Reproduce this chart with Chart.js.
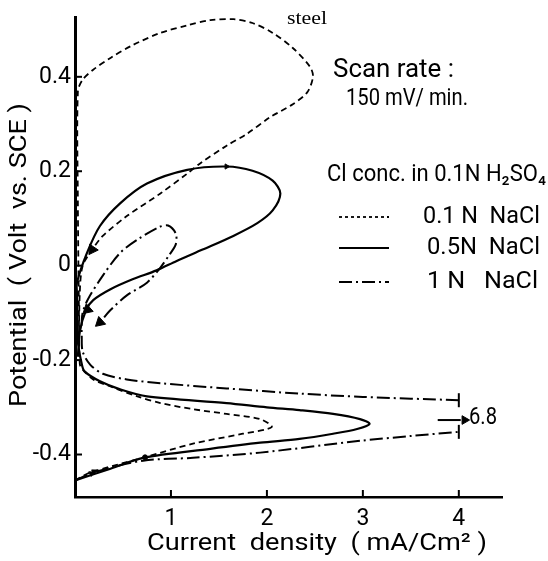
<!DOCTYPE html>
<html>
<head>
<meta charset="utf-8">
<script src="https://cdn.jsdelivr.net/npm/chart.js@4.4.0/dist/chart.umd.min.js"></script>
<style>
  html, body { margin: 0; padding: 0; background: #fff; }
</style>
</head>
<body>
<canvas id="c" width="548" height="561"></canvas>
<script>
// Polarisation curves of steel in 0.1N H2SO4 with NaCl added.

const xTicks = [1, 2, 3, 4];
const yTicks = [-0.4, -0.2, 0, 0.2, 0.4];

// 0.1 N NaCl (dashed) : current density (mA/cm2) and potential (V)
const i01 = [0, 0.16, 0.71, 1.23, 1.75, 2.05, 1.93, 1.58, 1.23, 0.89, 0.65, 0.37, 0.19, 0.08, 0.05,
  0.04, 0.03, 0.03, 0.08, 0.19, 0.37, 0.60, 0.89, 1.17, 1.41, 1.65, 1.85, 2.06, 2.27, 2.45, 2.48,
  2.42, 2.27, 2.03, 1.79, 1.58, 1.30, 1.17, 0.89, 0.54, 0.29, 0.18, 0.08, 0.05, 0.04];
const e01 = [-0.455, -0.438, -0.407, -0.377, -0.356, -0.342, -0.325, -0.314, -0.304, -0.291, -0.277, -0.256, -0.241, -0.220, -0.208,
  -0.078, 0.132, 0.369, 0.394, 0.415, 0.440, 0.467, 0.493, 0.509, 0.520, 0.522, 0.514, 0.493, 0.461, 0.421, 0.400,
  0.367, 0.342, 0.314, 0.279, 0.254, 0.216, 0.195, 0.153, 0.105, 0.063, 0.034, 0.000, -0.057, -0.182];

// 0.5 N NaCl (solid)
const i05 = [0, 0.37, 0.71, 1.41, 1.93, 2.34, 2.69, 2.94, 3.07, 2.97, 2.69, 2.34, 2.00, 1.58, 0.75, 0.47, 0.26, 0.10, 0.07,
  0.03, 0.02, 0.02, 0.125, 0.26, 0.47, 0.75, 1.17, 1.58, 1.85, 2.06, 2.14, 2.06, 1.90, 1.65, 1.33, 1.06, 0.85, 0.60,
  0.37, 0.19, 0.115, 0.05, 0.03];
const e05 = [-0.455, -0.430, -0.407, -0.388, -0.375, -0.367, -0.356, -0.346, -0.335, -0.325, -0.314, -0.306, -0.300, -0.291, -0.277, -0.262, -0.245, -0.224, -0.208,
  -0.161, -0.057, -0.036, 0.027, 0.084, 0.132, 0.174, 0.203, 0.210, 0.201, 0.180, 0.153, 0.117, 0.090, 0.063, 0.034, 0.010, -0.010, -0.029,
  -0.050, -0.073, -0.094, -0.140, -0.193];

// 1 N NaCl (dash-dot), cut at 4 mA/cm2 (peak 6.8)
const i1up = [0, 0.19, 0.71, 1.23, 1.93, 2.97, 3.49, 4.0];
const e1up = [-0.455, -0.438, -0.413, -0.407, -0.396, -0.371, -0.361, -0.352];
const i1down = [4.0, 3.0, 2.34, 1.58, 0.89, 0.54, 0.29, 0.16, 0.08, 0.07, 0.07, 0.08, 0.135, 0.29, 0.47, 0.65, 0.88,
  0.97, 1.05, 1.05, 0.98, 0.89, 0.75, 0.54, 0.37, 0.26];
const e1down = [-0.285, -0.278, -0.271, -0.260, -0.249, -0.241, -0.229, -0.210, -0.182, -0.147, -0.120, -0.099, -0.071, -0.021, 0.027, 0.055, 0.082,
  0.085, 0.068, 0.045, 0.022, -0.004, -0.036, -0.063, -0.094, -0.120];

// scan direction arrows
const arrowI = [0.18, 0.13, 0.26, 1.58, 0.17, 0.20];
const arrowE = [0.034, -0.093, -0.120, 0.210, -0.440, -0.436];
const arrowRot = [214, 228, 228, 90, 62, 62];
const arrowSize = [6, 6, 6, 3, 3, 3];
const dotI = [0.73];
const dotE = [-0.406];

// off-scale marker for 1 N curve
const capI = [4, 4];
const capE = [-0.285, -0.352];
const peakI = [3.78, 4.02];
const peakE = [-0.327, -0.327];
const peakLabel = "6.8";

const pts = (xs, ys) => xs.map((x, k) => ({ x: x, y: ys[k] }));

function curva(data, dash, width) {
  return {
    data: data,
    showLine: true,
    borderColor: "#000",
    borderWidth: width,
    borderDash: dash,
    pointRadius: 0,
    tension: 0.3,
    fill: false,
  };
}

function textoAjustado(ctx, txt, x, y, w, font, align) {
  ctx.font = font;
  const m = ctx.measureText(txt).width;
  ctx.save();
  ctx.translate(x, y);
  ctx.scale(w / m, 1);
  ctx.textAlign = align || "left";
  ctx.fillText(txt, 0, 0);
  ctx.restore();
}

const FUENTE = "Roboto";

const decoracion = {
  id: "decoracion",
  afterDraw(chart) {
    const ctx = chart.ctx;
    const sx = chart.scales.x, sy = chart.scales.y;
    ctx.save();
    ctx.strokeStyle = "#000";
    ctx.fillStyle = "#000";
    ctx.lineWidth = 2;
    ctx.setLineDash([]);
    // inward tick marks
    xTicks.forEach((v) => {
      const px = sx.getPixelForValue(v);
      ctx.beginPath(); ctx.moveTo(px, sy.bottom); ctx.lineTo(px, sy.bottom - 7); ctx.stroke();
    });
    yTicks.forEach((v) => {
      const py = sy.getPixelForValue(v);
      ctx.beginPath(); ctx.moveTo(sx.left, py); ctx.lineTo(sx.left + 7, py); ctx.stroke();
    });

    ctx.textBaseline = "middle";
    // axis titles
    textoAjustado(ctx, "Current  density  ( mA/Cm\u00b2 )", 147, 544, 340, "24px " + FUENTE);
    ctx.save();
    ctx.translate(20, 255);
    ctx.rotate(-Math.PI / 2);
    textoAjustado(ctx, "Potential  ( Volt  vs. SCE )", 0, 0, 304, "24px " + FUENTE, "center");
    ctx.restore();

    // notes
    textoAjustado(ctx, "steel", 287, 19, 40, "19px 'Liberation Serif'");
    textoAjustado(ctx, "Scan rate :", 333, 71, 121, "25px " + FUENTE);
    textoAjustado(ctx, "150 mV/ min.", 346, 99, 122, "24px " + FUENTE);
    textoAjustado(ctx, "Cl conc. in 0.1N H\u2082SO\u2084", 327, 175, 219, "24px " + FUENTE);
    textoAjustado(ctx, "0.1 N  NaCl", 423, 217, 117, "24px " + FUENTE);
    textoAjustado(ctx, "0.5N  NaCl", 427, 248, 113, "24px " + FUENTE);
    textoAjustado(ctx, "1 N   NaCl", 427, 282, 111, "24px " + FUENTE);
    textoAjustado(ctx, peakLabel, 469, 418, 28, "23px " + FUENTE);

    // legend samples
    const muestras = [[217, [3, 3], 1.8], [248, [], 2.2], [282, [13, 4, 2, 4], 2]];
    muestras.forEach(([y, dash, w]) => {
      ctx.setLineDash(dash);
      ctx.lineWidth = w;
      ctx.beginPath(); ctx.moveTo(339, y); ctx.lineTo(389, y); ctx.stroke();
    });
    ctx.restore();
  },
};

new Chart(document.getElementById("c"), {
  type: "scatter",
  data: {
    datasets: [
      curva(pts(i01, e01), [6, 4], 1.8),
      curva(pts(i05, e05), [], 2.2),
      curva(pts(i1up, e1up), [13, 4, 2, 4], 2),
      curva(pts(i1down, e1down), [13, 4, 2, 4], 2),
      curva(pts(peakI, peakE), [], 2),
      {
        data: pts(capI, capE),
        pointStyle: "line",
        pointRotation: 90,
        pointRadius: 7,
        borderColor: "#000",
        borderWidth: 2,
      },
      {
        data: pts(arrowI, arrowE).concat([{ x: 4.06, y: -0.327 }]),
        pointStyle: "triangle",
        pointRotation: arrowRot.concat([90]),
        pointRadius: arrowSize.concat([5]),
        backgroundColor: "#000",
        borderColor: "#000",
        borderWidth: 1,
      },
      {
        data: pts(dotI, dotE),
        pointStyle: "circle",
        pointRadius: 2.5,
        backgroundColor: "#000",
        borderColor: "#000",
      },
    ],
  },
  options: {
    responsive: false,
    animation: false,
    clip: false,
    layout: { padding: { top: 13, right: 46, left: 0, bottom: 0 } },
    plugins: { legend: { display: false }, tooltip: { enabled: false } },
    scales: {
      x: {
        type: "linear",
        min: 0,
        max: 4.45,
        afterFit: (s) => { s.height = 64; },
        afterBuildTicks: (s) => { s.ticks = xTicks.map((v) => ({ value: v })); },
        grid: { display: false, drawTicks: false },
        border: { display: true, color: "#000", width: 2.5 },
        ticks: { color: "#000", font: { family: FUENTE, size: 23 }, padding: 8, autoSkip: false, callback: (v) => String(v) },
      },
      y: {
        type: "linear",
        min: -0.49,
        max: 0.525,
        afterFit: (s) => { s.width = 75; },
        afterBuildTicks: (s) => { s.ticks = yTicks.map((v) => ({ value: v })); },
        grid: { display: false, drawTicks: false },
        border: { display: true, color: "#000", width: 3 },
        ticks: { color: "#000", font: { family: FUENTE, size: 23 }, padding: 4, autoSkip: false,
          callback: (v) => (v === 0 ? "0" : v.toFixed(1)) },
      },
    },
  },
  plugins: [decoracion],
});
</script>
</body>
</html>
